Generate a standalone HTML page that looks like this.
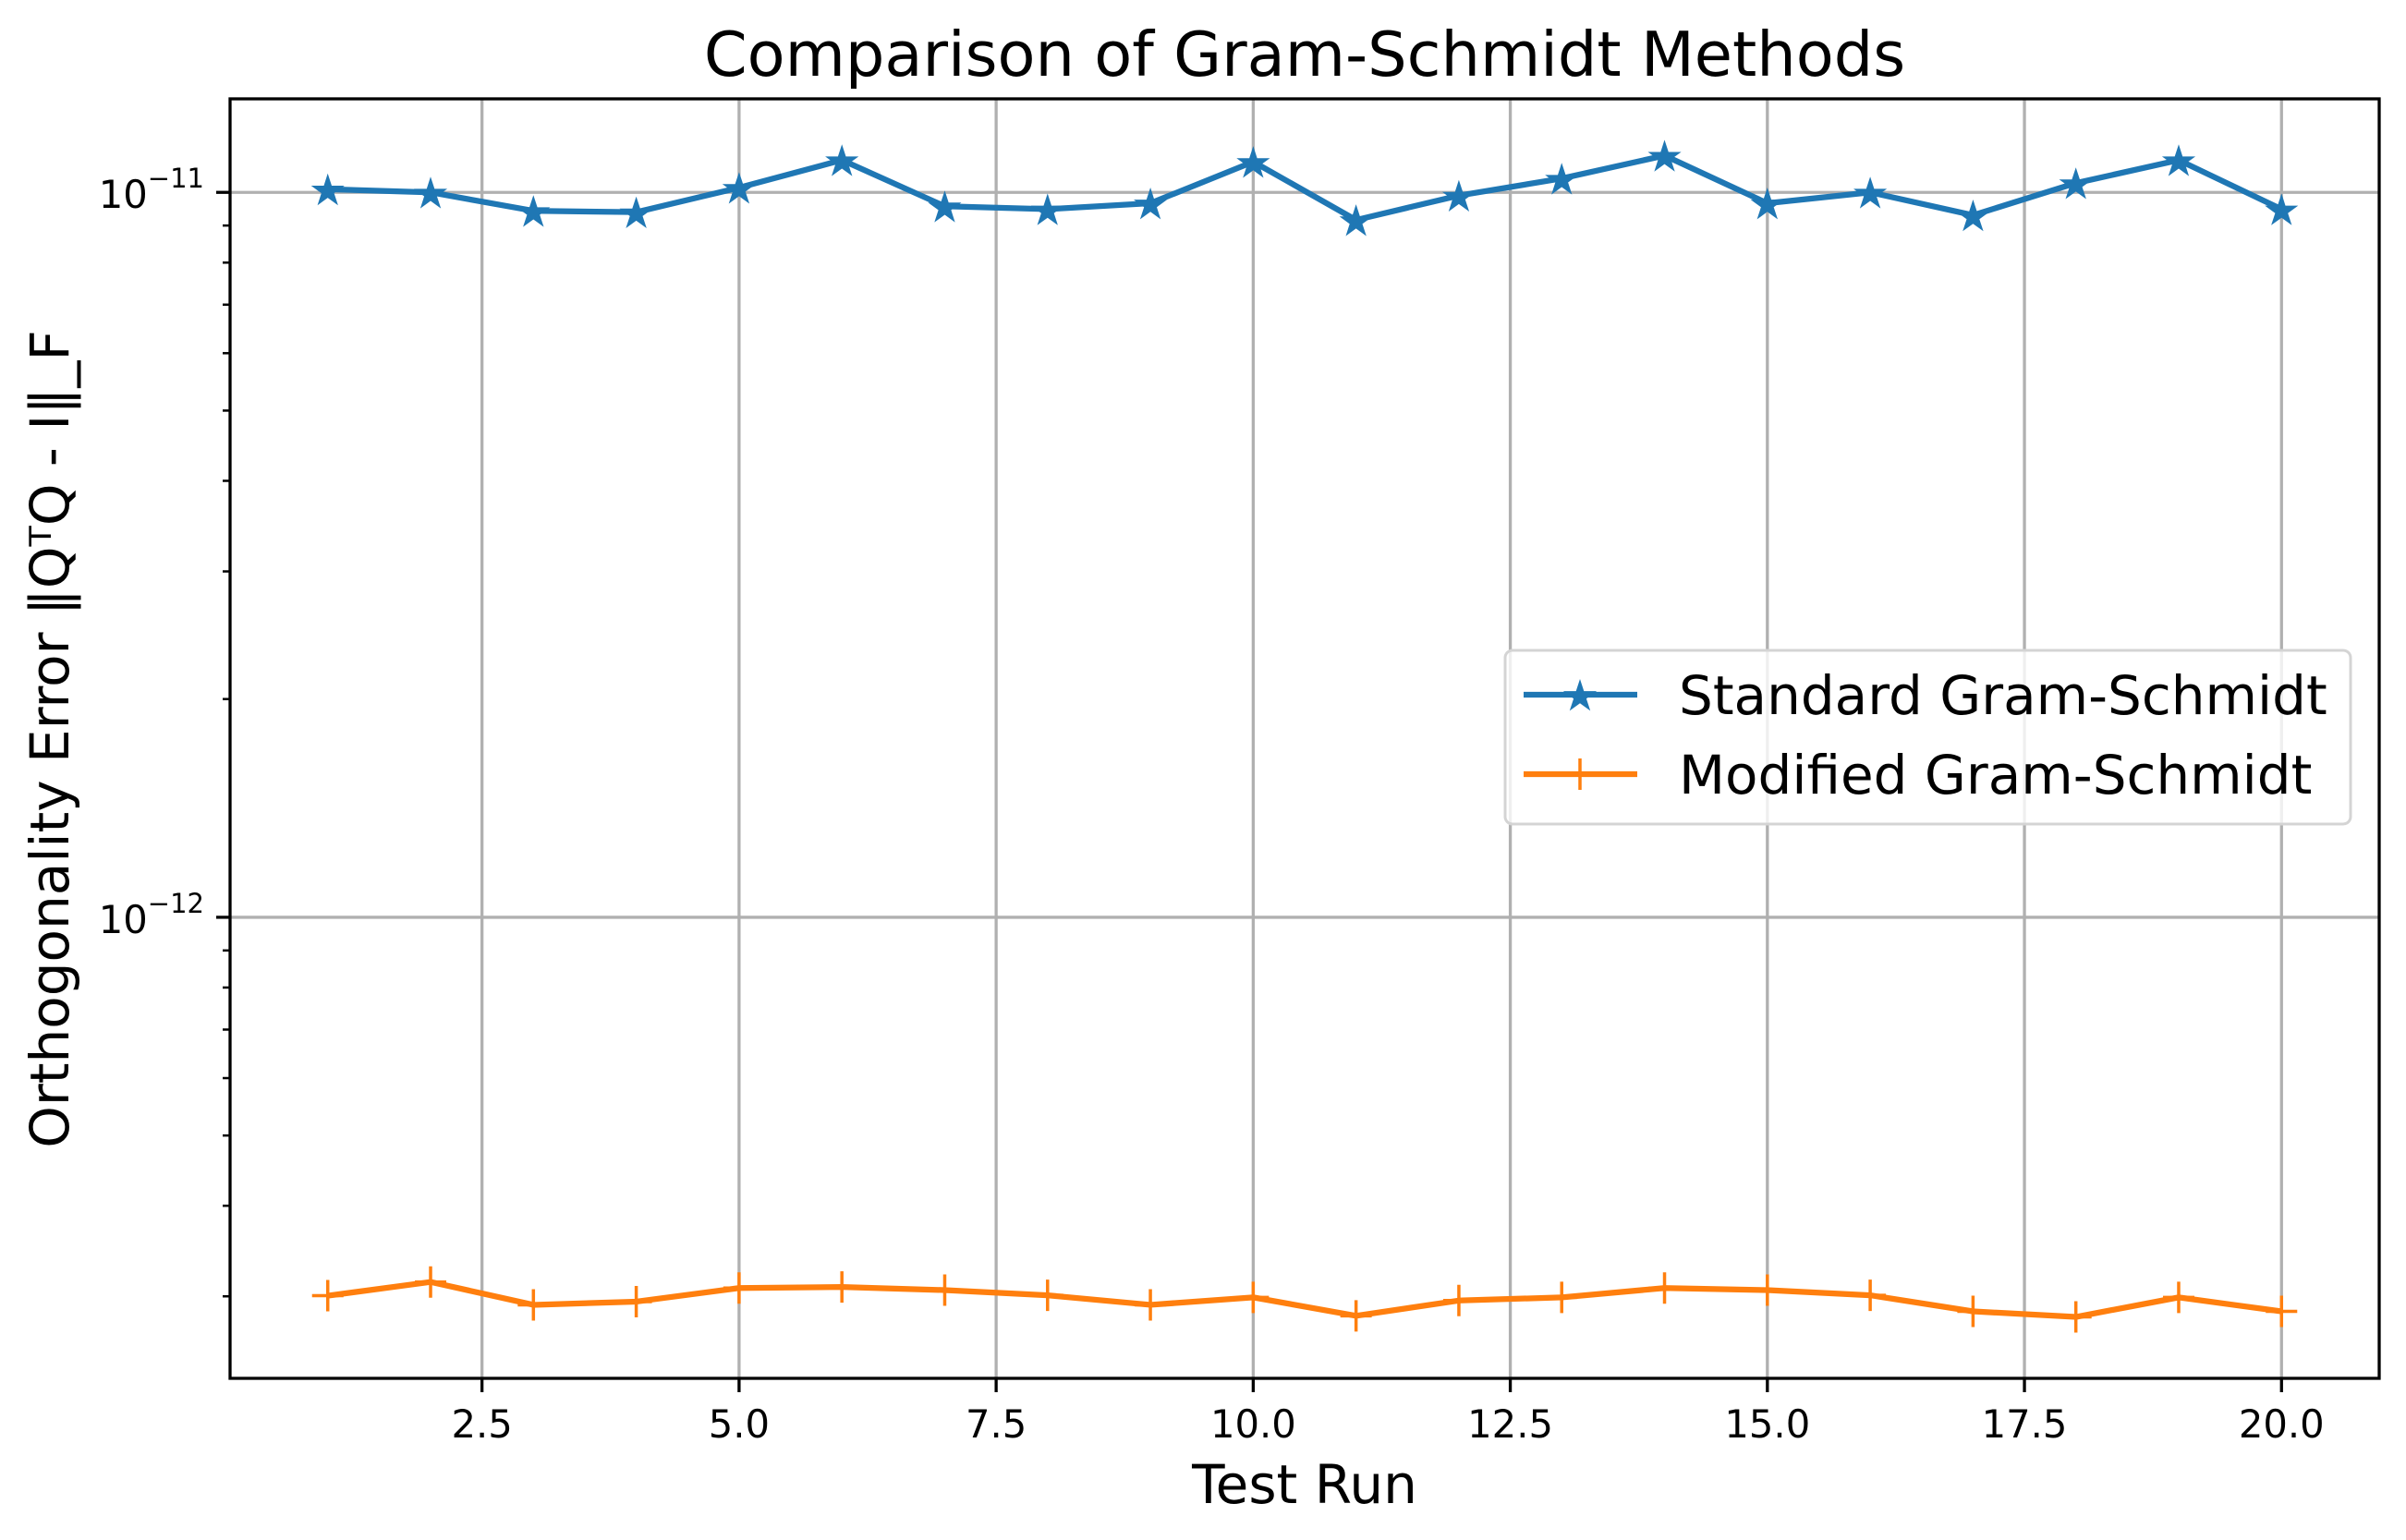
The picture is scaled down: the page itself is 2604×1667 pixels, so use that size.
<!DOCTYPE html>
<html><head><meta charset="utf-8"><style>
html,body{margin:0;padding:0;background:#fff;}
svg{display:block;font-family:"DejaVu Sans","Liberation Sans",sans-serif;}
</style></head><body>
<svg id="chart" width="2604" height="1667" viewBox="0 0 2604 1667" xmlns="http://www.w3.org/2000/svg">
<rect x="0" y="0" width="2604" height="1667" fill="#fff"/>
<text x="1412" y="82" font-size="67" text-anchor="middle">Comparison of Gram-Schmidt Methods</text>
<text x="1412" y="1627" font-size="58" text-anchor="middle">Test Run</text>
<text transform="translate(74,800) rotate(-90)" font-size="58" text-anchor="middle">Orthogonality Error ‖QᵀQ - I‖_F</text>
<g id="grid"></g>
<g id="series"></g>
<rect x="249" y="107" width="2326" height="1385" fill="none" stroke="#000" stroke-width="3.3"/>
<g id="ticks"></g>
<g>
<rect x="1629" y="704" width="915" height="188" rx="8" fill="#fff" fill-opacity="0.8" stroke="#d4d4d4" stroke-width="3"/>
<g>
<line x1="1649" y1="752" x2="1772" y2="752" stroke="#1f77b4" stroke-width="6.25"/>
<polygon id="legstar" fill="#1f77b4"/>
<text x="1817" y="773" font-size="58">Standard Gram-Schmidt</text>
</g>
<g>
<line x1="1649" y1="838" x2="1772" y2="838" stroke="#ff7f0e" stroke-width="6.25"/>
<line x1="1710" y1="821" x2="1710" y2="855" stroke="#ff7f0e" stroke-width="3.5"/>
<text x="1817" y="859" font-size="58">Modified Gram-Schmidt</text>
</g>
</g>
</svg>
<script>
const runs = [1,2,3,4,5,6,7,8,9,10,11,12,13,14,15,16,17,18,19,20];
const standardGS = [1.010e-11,1.000e-11,0.943e-11,0.939e-11,1.015e-11,1.108e-11,0.957e-11,0.948e-11,0.966e-11,1.102e-11,0.916e-11,0.990e-11,1.045e-11,1.124e-11,0.966e-11,1.000e-11,0.930e-11,1.030e-11,1.108e-11,0.948e-11];
const modifiedGS = [0.3006e-12,0.314e-12,0.292e-12,0.295e-12,0.308e-12,0.309e-12,0.306e-12,0.301e-12,0.292e-12,0.299e-12,0.282e-12,0.296e-12,0.299e-12,0.308e-12,0.306e-12,0.301e-12,0.286e-12,0.281e-12,0.299e-12,0.286e-12];
const xTicks = [2.5,5.0,7.5,10.0,12.5,15.0,17.5,20.0];
const xTickLabels = ["2.5","5.0","7.5","10.0","12.5","15.0","17.5","20.0"];
const yMajor = [-12,-11];
const yMajorLabels = ["\u221212","\u221211"];

const NS="http://www.w3.org/2000/svg";
const L=249,R=2575,T=107,B=1492;
const xMin=0.05,xMax=20.95;
const yMinL=-12.636,yMaxL=-10.871;
function xs(v){return L+(v-xMin)/(xMax-xMin)*(R-L);}
function ys(v){return B-(Math.log10(v)-yMinL)/(yMaxL-yMinL)*(B-T);}
function mk(tag,attrs,parent){const e=document.createElementNS(NS,tag);for(const k in attrs)e.setAttribute(k,attrs[k]);parent.appendChild(e);return e;}
const grid=document.getElementById('grid'),ticks=document.getElementById('ticks'),series=document.getElementById('series');

xTicks.forEach((t,i)=>{
  const x=xs(t);
  const g=mk('line',{x1:x,y1:T,x2:x,y2:B,stroke:'#b0b0b0','stroke-width':3.3},grid);
  
  
  const tk=mk('line',{x1:x,y1:B,x2:x,y2:B+15,stroke:'#000','stroke-width':3.3},ticks);
  
  
  const tx=mk('text',{x:x,y:B+64,'font-size':41.7,'text-anchor':'middle'},ticks);
  tx.textContent=xTickLabels[i];
  
  
});
yMajor.forEach((e,i)=>{
  const y=ys(Math.pow(10,e));
  const g=mk('line',{x1:L,y1:y,x2:R,y2:y,stroke:'#b0b0b0','stroke-width':3.3},grid);
  
  
  const tk=mk('line',{x1:L-15,y1:y,x2:L,y2:y,stroke:'#000','stroke-width':3.3},ticks);
  
  
  const tx=mk('text',{x:L-28,y:y+17,'font-size':41.7,'text-anchor':'end'},ticks);
  
  
  const a=mk('tspan',{},tx);a.textContent='10';
  const b=mk('tspan',{dy:-22,'font-size':29},tx);b.textContent=yMajorLabels[i];
});
for(let e=-13;e<=-11;e++){for(let m=2;m<=9;m++){
  const v=m*Math.pow(10,e);const y=ys(v);
  if(y<T||y>B)continue;
  const tk=mk('line',{x1:L-8,y1:y,x2:L,y2:y,stroke:'#000','stroke-width':2.5},ticks);
  
  
}}
function starPts(cx,cy,ro){const ri=ro*0.382;let p=[];for(let k=0;k<10;k++){const r=k%2?ri:ro;const a=-Math.PI/2+k*Math.PI/5;p.push((cx+r*Math.cos(a)).toFixed(1)+','+(cy+r*Math.sin(a)).toFixed(1));}return p.join(' ');}
const sp=runs.map((r,i)=>xs(r)+','+ys(standardGS[i])).join(' ');
const l1=mk('polyline',{points:sp,fill:'none',stroke:'#1f77b4','stroke-width':6.25,'stroke-linejoin':'round'},series);


runs.forEach((r,i)=>{
  const s=mk('polygon',{points:starPts(xs(r),ys(standardGS[i])+2,19),fill:'#1f77b4'},series);
  
  
});
const mp=runs.map((r,i)=>xs(r)+','+ys(modifiedGS[i])).join(' ');
const l2=mk('polyline',{points:mp,fill:'none',stroke:'#ff7f0e','stroke-width':6.25,'stroke-linejoin':'round'},series);


runs.forEach((r,i)=>{
  const x=xs(r),y=ys(modifiedGS[i]);
  const g=mk('path',{d:`M${x-17},${y}H${x+17}M${x},${y-17}V${y+17}`,stroke:'#ff7f0e','stroke-width':3.5},series);
  
  
});
document.getElementById('legstar').setAttribute('points',starPts(1710,754,19));
</script>
</body></html>
